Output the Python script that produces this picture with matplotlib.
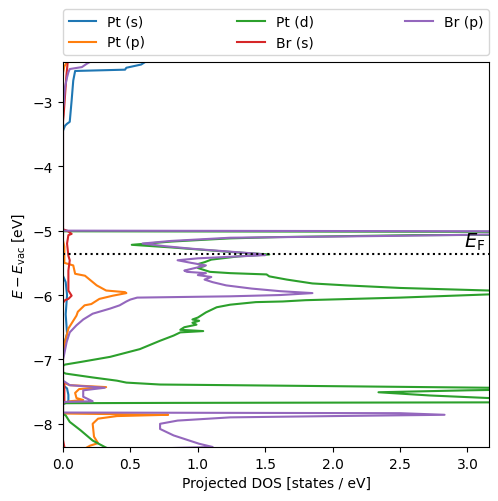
import matplotlib
matplotlib.use("Agg")
import matplotlib.pyplot as plt

# projected DOS, energies in eV (vs vacuum)
e_pt_s = [-2.30, -2.38, -2.42, -2.47, -2.50, -2.52, -2.67, -2.98, -3.31, -3.34, -3.37, -3.45,
          -5.70, -5.80, -6.00, -6.30, -6.60, -6.75, -6.90, -7.40, -7.45, -7.55, -7.65, -7.70, -8.40]
dos_pt_s = [0.65, 0.61, 0.58, 0.47, 0.46, 0.09, 0.076, 0.064, 0.05, 0.03, 0.015, 0.0,
            0.0, 0.02, 0.03, 0.02, 0.03, 0.01, 0.0, 0.0, 0.03, 0.04, 0.04, 0.0, 0.0]

e_pt_p = [-2.30, -2.38, -2.45, -2.55, -5.15, -5.25, -5.50, -5.54, -5.67, -5.70, -5.85, -5.93,
          -5.955, -5.97, -6.01, -6.06, -6.14, -6.16, -6.26, -6.32, -6.52, -6.73, -6.90,
          -7.36, -7.40, -7.43, -7.46, -7.52, -7.60, -7.63, -7.65, -7.68,
          -7.84, -7.86, -7.88, -7.92, -8.00, -8.20, -8.30, -8.34, -8.40]
dos_pt_p = [0.04, 0.03, 0.01, 0.0, 0.0, 0.01, 0.01, 0.076, 0.09, 0.163, 0.25, 0.32,
            0.46, 0.47, 0.37, 0.27, 0.21, 0.16, 0.11, 0.10, 0.04, 0.015, 0.0,
            0.0, 0.05, 0.32, 0.12, 0.09, 0.10, 0.15, 0.05, 0.0,
            0.0, 0.78, 0.40, 0.26, 0.22, 0.23, 0.26, 0.20, 0.15]

e_pt_d = [-4.99, -5.01, -5.02, -5.06, -5.07, -5.10, -5.12, -5.17, -5.22, -5.26, -5.30, -5.34, -5.37,
          -5.40, -5.45, -5.49, -5.52, -5.55, -5.58, -5.62, -5.64, -5.66, -5.68, -5.71, -5.76,
          -5.82, -5.85, -5.89, -5.93, -5.96, -5.99, -6.04, -6.08, -6.10, -6.11, -6.15, -6.19,
          -6.27, -6.35, -6.38, -6.40, -6.43, -6.46, -6.50, -6.54, -6.56, -6.58, -6.63, -6.71,
          -6.84, -6.96, -7.04, -7.08, -7.10,
          -7.20, -7.22, -7.28, -7.33, -7.36, -7.39, -7.40, -7.42, -7.44, -7.46, -7.48, -7.51,
          -7.56, -7.60, -7.63, -7.665, -7.675, -7.68,
          -7.85, -7.87, -7.97, -8.10, -8.26, -8.36, -8.40]
dos_pt_d = [0.0, 0.0, 4.0, 4.0, 2.6, 1.6, 1.24, 0.8, 0.51, 0.8, 1.05, 1.3, 1.53,
            1.3, 1.1, 1.05, 1.0, 1.05, 1.0, 1.06, 1.09, 1.24, 1.51, 1.53, 1.66,
            1.85, 2.10, 2.50, 3.16, 3.5, 3.16, 2.5, 1.8, 1.63, 1.43, 1.24, 1.14,
            1.06, 1.00, 0.96, 1.01, 0.96, 0.99, 0.90, 0.87, 1.04, 0.87, 0.82, 0.72,
            0.57, 0.35, 0.13, 0.015, 0.0,
            0.0, 0.02, 0.22, 0.40, 0.47, 0.72, 1.24, 2.22, 3.16, 3.6, 3.0, 2.34,
            2.72, 3.16, 3.8, 3.8, 0.8, 0.0,
            0.0, 0.02, 0.05, 0.13, 0.22, 0.31, 0.35]

e_br_s = [-2.30, -2.38, -2.60, -2.90, -3.20, -3.30, -4.98, -5.00, -5.05, -5.07, -5.20, -5.39,
          -5.46, -5.62, -5.93, -6.01, -6.06, -6.08, -6.12, -7.35, -7.40, -7.65, -7.70,
          -8.25, -8.36, -8.40]
dos_br_s = [0.04, 0.035, 0.025, 0.015, 0.005, 0.0, 0.0, 0.03, 0.064, 0.04, 0.03, 0.04,
            0.05, 0.04, 0.04, 0.064, 0.04, 0.015, 0.0, 0.0, 0.01, 0.01, 0.0,
            0.0, 0.01, 0.015]

e_br_p = [-2.30, -2.38, -2.41, -2.46, -2.49, -2.54, -2.62, -2.77, -3.03, -3.10,
          -5.00, -5.015, -5.04, -5.06, -5.08, -5.11, -5.16, -5.20, -5.24, -5.28, -5.32, -5.36,
          -5.38, -5.40, -5.43, -5.46, -5.50, -5.54, -5.58, -5.62, -5.64, -5.66, -5.69, -5.72,
          -5.76, -5.80, -5.85, -5.90, -5.94, -5.97, -6.00, -6.02, -6.04, -6.07, -6.10, -6.16,
          -6.21, -6.29, -6.38, -6.47, -6.58, -6.73, -6.94, -7.00,
          -7.33, -7.35, -7.40, -7.44, -7.48, -7.58, -7.65, -7.66, -7.67,
          -7.825, -7.835, -7.86, -7.88, -7.90, -7.95, -8.00, -8.08, -8.18, -8.31, -8.36, -8.38]
dos_br_p = [0.25, 0.2, 0.175, 0.14, 0.05, 0.04, 0.03, 0.015, 0.005, 0.0,
            0.0, 5.0, 4.0, 3.16, 2.5, 1.24, 0.8, 0.59, 0.75, 0.95, 1.2, 1.45,
            1.50, 1.3, 1.0, 0.85, 0.95, 1.06, 0.98, 0.90, 0.92, 1.06, 1.00, 1.10,
            1.05, 1.11, 1.21, 1.40, 1.61, 1.85, 1.61, 1.24, 0.55, 0.50, 0.47, 0.42,
            0.35, 0.22, 0.15, 0.10, 0.05, 0.027, 0.007, 0.0,
            0.0, 0.015, 0.05, 0.31, 0.15, 0.15, 0.22, 0.015, 0.0,
            0.0, 2.5, 2.83, 2.0, 1.24, 0.85, 0.72, 0.72, 0.82, 1.01, 1.11, 0.74]

labels = ["Pt (s)", "Pt (p)", "Pt (d)", "Br (s)", "Br (p)"]
e_fermi = -5.36

fig = plt.figure(figsize=(4.98, 5.02), dpi=100)
ax = fig.add_axes([0.1265, 0.1076, 0.8555, 0.767])

series = [(e_pt_s, dos_pt_s), (e_pt_p, dos_pt_p), (e_pt_d, dos_pt_d),
          (e_br_s, dos_br_s), (e_br_p, dos_br_p)]
for (e, d), lab in zip(series, labels):
    ax.plot(d, e, lw=1.5, label=lab)

ax.axhline(e_fermi, color="k", ls=":", lw=1.5)
ax.text(3.13, e_fermi + 0.03, r"$E_{\rm F}$", ha="right", va="bottom", fontsize=14)

ax.set_xlim(0, 3.16)
ax.set_ylim(-8.36, -2.38)
ax.set_xlabel("Projected DOS [states / eV]")
ax.set_ylabel(r"$E - E_{\rm vac}$ [eV]")
ax.legend(bbox_to_anchor=(0, 1.018, 1, 0.1), loc="lower left", mode="expand",
          ncol=3, borderaxespad=0)

fig.savefig("out.png", dpi=100)
